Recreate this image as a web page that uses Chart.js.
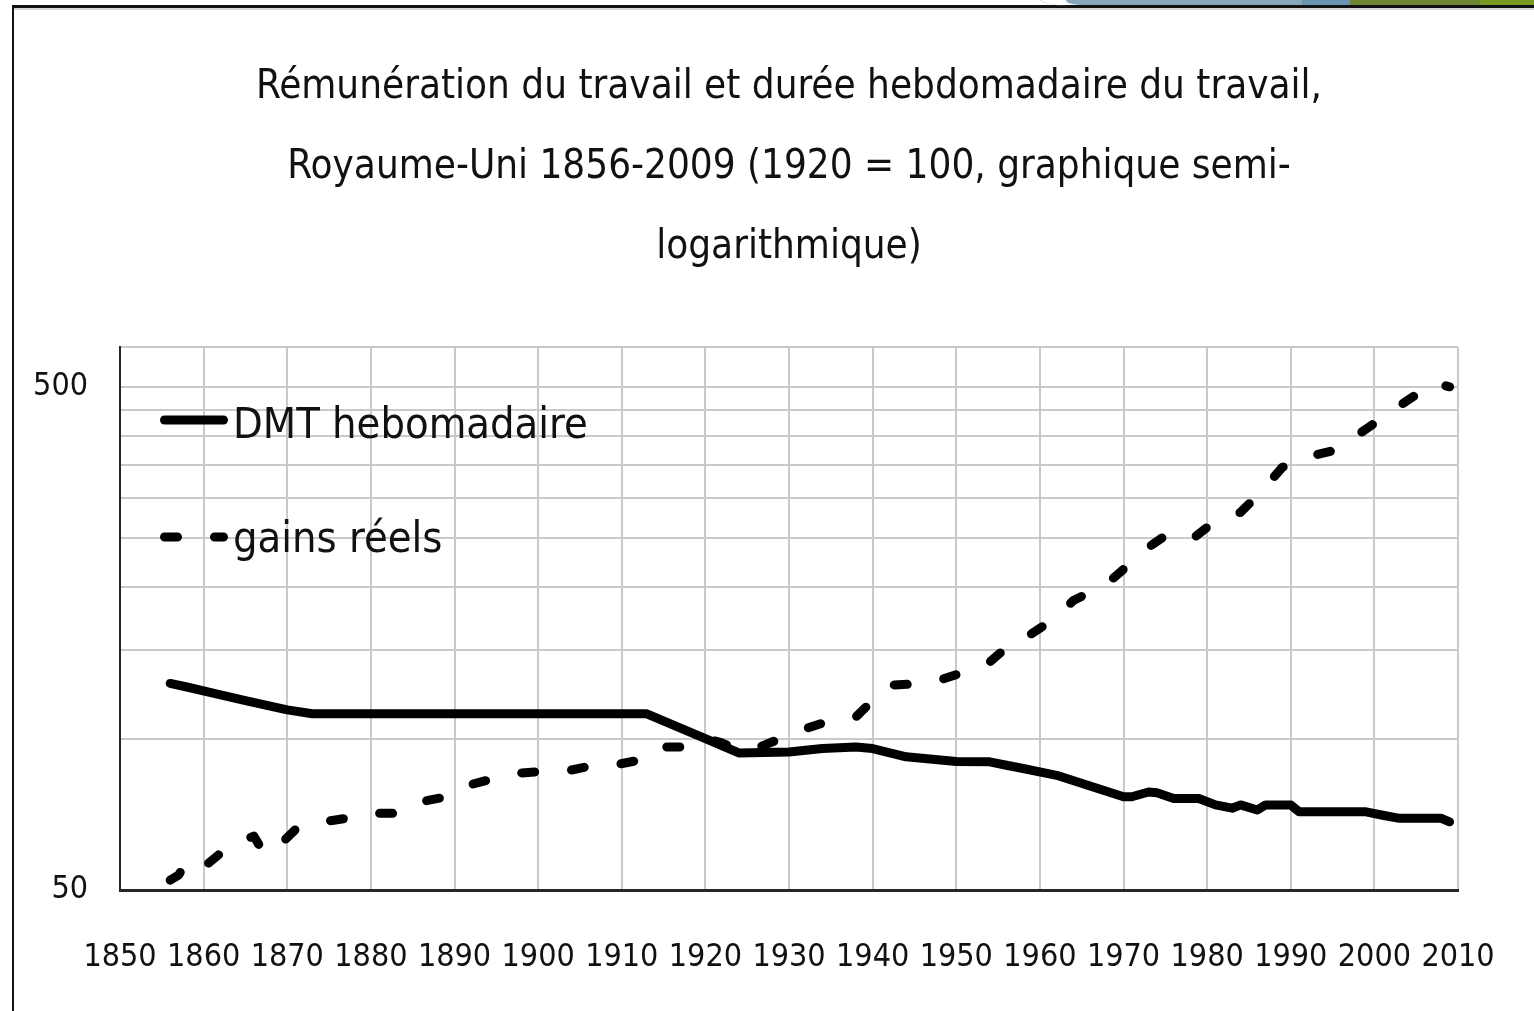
<!DOCTYPE html>
<html>
<head>
<meta charset="utf-8">
<script src="https://cdn.jsdelivr.net/npm/chart.js@4/dist/chart.umd.min.js"></script>
<style>
  html, body { margin: 0; padding: 0; background: #ffffff; width: 1534px; height: 1011px; overflow: hidden; }
  body { position: relative; }
  #frameTop { position: absolute; left: 12px; top: 5px; width: 1522px; height: 3px; background: #111; }
  #frameShadow { position: absolute; left: 14px; top: 8px; width: 1520px; height: 2px; background: #d6d6d6; }
  #frameLeft { position: absolute; left: 12px; top: 5px; width: 2px; height: 1006px; background: #111; }
  #decoArc { position: absolute; left: 1028px; top: -14px; width: 40px; height: 20px; border-left: 1px solid #8fb0c8; border-bottom-left-radius: 40px 20px; }
  #deco1 { position: absolute; left: 1066px; top: 0; width: 240px; height: 5px; background: #86a6bb; border-bottom-left-radius: 14px 5px; }
  #deco2 { position: absolute; left: 1302px; top: 0; width: 49px; height: 5px; background: #6896b2; }
  #deco3 { position: absolute; left: 1350px; top: 0; width: 132px; height: 5px; background: #6f8735; }
  #deco4 { position: absolute; left: 1480px; top: 0; width: 54px; height: 5px; background: #7b9a24; }
  #c { position: absolute; left: 0; top: 0; }
</style>
</head>
<body>
<div id="frameShadow"></div>
<div id="frameTop"></div>
<div id="frameLeft"></div>
<div id="decoArc"></div>
<div id="deco1"></div>
<div id="deco2"></div>
<div id="deco3"></div>
<div id="deco4"></div>
<canvas id="c" width="1534" height="1011"></canvas>
<script>
// ---- Data ----
const titleLines = [
  "Rémunération du travail et durée hebdomadaire du travail,",
  "Royaume-Uni 1856-2009 (1920 = 100, graphique semi-",
  "logarithmique)"
];
const seriesNames = ["DMT hebomadaire", "gains réels"];

const dmtYears  = [1856, 1858, 1861, 1865, 1870, 1873, 1913, 1920, 1924, 1930, 1934, 1938, 1940, 1944, 1950, 1954, 1956, 1958, 1962, 1970, 1971, 1973, 1974, 1976, 1979, 1981, 1983, 1984, 1986, 1987, 1990, 1991, 1999, 2001, 2003, 2008, 2009];
const dmtValues = [128.7, 126.6, 123.2, 119, 114, 112, 112, 100, 93.6, 94, 95.5, 96.2, 95.5, 92, 90, 89.9, 88.5, 87.2, 84.5, 76.6, 76.6, 78.3, 78, 76, 76, 73.8, 72.7, 73.8, 72.1, 73.8, 73.8, 71.5, 71.5, 70.4, 69.4, 69.4, 68.3];

const gainsYears  = [1856, 1857, 1858, 1860, 1863, 1866, 1867, 1868, 1871, 1873, 1877, 1879, 1883, 1885, 1889, 1891, 1894, 1897, 1900, 1903, 1906, 1909, 1913, 1915, 1918, 1920, 1922, 1924, 1926, 1929, 1932, 1935, 1938, 1940, 1942, 1946, 1948, 1951, 1954, 1957, 1959, 1962, 1964, 1968, 1970, 1973, 1975, 1978, 1980, 1984, 1986, 1989, 1991, 1995, 1997, 2001, 2003, 2006, 2007, 2009];
const gainsValues = [52.3, 53.5, 57, 55.5, 61, 64, 60, 59, 66, 67.8, 69.4, 71, 71, 74.3, 76.6, 80.2, 82.7, 85.2, 85.9, 85.9, 88, 88.5, 91.2, 96.2, 96.2, 100, 98, 94.5, 95.5, 100, 104.6, 108.7, 110.4, 119, 127.6, 128.6, 130.6, 135.6, 141.9, 156.7, 161.5, 174.3, 188.1, 203, 217, 240, 253, 247.4, 263, 281.6, 303.9, 345.9, 359.3, 373.2, 390.7, 434.6, 458.4, 494.7, 509.9, 500];

const xTickYears  = [1850, 1860, 1870, 1880, 1890, 1900, 1910, 1920, 1930, 1940, 1950, 1960, 1970, 1980, 1990, 2000, 2010];
const yGridValues = [50, 100, 150, 200, 250, 300, 350, 400, 450, 500, 600];
const yLabelValues = [50, 500];

// ---- Styling ----
const FONT = '"DejaVu Sans Condensed", "Liberation Sans Narrow", "Arial Narrow", sans-serif';
const GRID = '#c9c9c9';
const AXIS = '#262626';
const TEXT = '#111111';

const toPoints = (xs, ys) => xs.map((x, i) => ({ x: x, y: ys[i] }));

const inlineLegend = {
  id: 'inlineLegend',
  afterDatasetsDraw(chart, args, opts) {
    const ctx = chart.ctx;
    const ca = chart.chartArea;
    chart.data.datasets.forEach((ds, i) => {
      const y = ca.top + opts.top + i * opts.spacing;
      const x0 = ca.left + opts.left;
      const hw = ds.borderWidth / 2;
      ctx.save();
      ctx.strokeStyle = ds.borderColor;
      ctx.lineWidth = ds.borderWidth;
      ctx.lineCap = ds.borderCapStyle || 'butt';
      ctx.setLineDash(ds.borderDash || []);
      ctx.beginPath();
      ctx.moveTo(x0 + hw, y);
      ctx.lineTo(x0 + opts.sampleWidth - hw, y);
      ctx.stroke();
      ctx.setLineDash([]);
      ctx.fillStyle = opts.color;
      ctx.font = opts.font;
      ctx.textAlign = 'left';
      ctx.textBaseline = 'alphabetic';
      ctx.fillText(ds.label, x0 + opts.sampleWidth + opts.gap, y + opts.baselineOffset[i]);
      ctx.restore();
    });
  }
};

new Chart(document.getElementById('c'), {
  type: 'line',
  data: {
    datasets: [
      {
        label: seriesNames[0],
        data: toPoints(dmtYears, dmtValues),
        borderColor: '#000000',
        backgroundColor: '#000000',
        borderWidth: 9,
        borderCapStyle: 'round',
        borderJoinStyle: 'round',
        pointRadius: 0,
        tension: 0,
        fill: false
      },
      {
        label: seriesNames[1],
        data: toPoints(gainsYears, gainsValues),
        borderColor: '#000000',
        backgroundColor: '#000000',
        borderWidth: 9,
        borderDash: [13, 37],
        borderCapStyle: 'round',
        borderJoinStyle: 'round',
        pointRadius: 0,
        tension: 0,
        fill: false
      }
    ]
  },
  options: {
    responsive: false,
    animation: false,
    devicePixelRatio: 1,
    layout: { padding: { left: 20, right: 76, top: 48, bottom: 0 } },
    scales: {
      x: {
        type: 'linear',
        min: 1850,
        max: 2010,
        afterBuildTicks: (s) => { s.ticks = xTickYears.map(v => ({ value: v })); },
        afterFit: (s) => { s.height = 121; },
        ticks: {
          autoSkip: false,
          maxRotation: 0,
          padding: 3,
          color: TEXT,
          font: { family: FONT, size: 32 },
          callback: (v) => String(v)
        },
        grid: {
          drawTicks: true,
          tickLength: 45,
          tickColor: 'rgba(0,0,0,0)',
          color: (c) => (c.tick && c.tick.value === 1850) ? AXIS : GRID,
          lineWidth: 2
        },
        border: { display: true, color: AXIS, width: 3 }
      },
      y: {
        type: 'logarithmic',
        min: 50,
        max: 600,
        afterBuildTicks: (s) => { s.ticks = yGridValues.map(v => ({ value: v })); },
        afterFit: (s) => { s.width = 100; },
        ticks: {
          autoSkip: false,
          padding: 32,
          color: TEXT,
          font: { family: FONT, size: 32 },
          callback: (v) => yLabelValues.includes(v) ? String(v) : ''
        },
        grid: {
          drawTicks: false,
          color: (c) => (c.tick && c.tick.value === 50) ? AXIS : GRID,
          lineWidth: (c) => (c.tick && c.tick.value === 50) ? 3 : 2
        },
        border: { display: true, color: AXIS, width: 2 }
      }
    },
    plugins: {
      legend: { display: false },
      tooltip: { enabled: false },
      title: {
        display: true,
        fullSize: false,
        text: titleLines,
        color: TEXT,
        font: { family: FONT, size: 40, weight: 'normal', lineHeight: 2 },
        padding: { top: 0, bottom: 59 }
      },
      inlineLegend: {
        left: 40,
        top: 73,
        spacing: 117,
        sampleWidth: 68,
        gap: 5,
        baselineOffset: [18, 15],
        color: TEXT,
        font: '43px ' + FONT
      }
    }
  },
  plugins: [inlineLegend]
});
</script>
</body>
</html>
